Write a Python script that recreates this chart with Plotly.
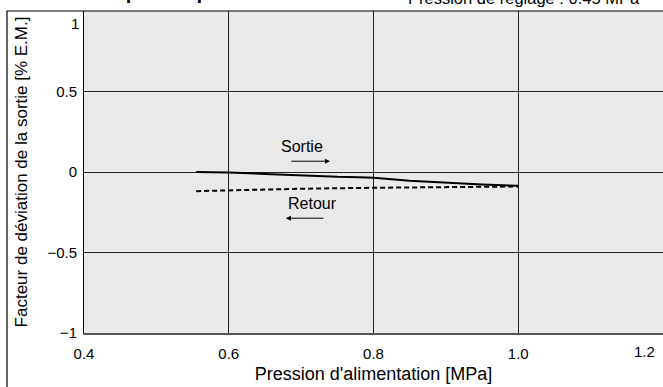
import plotly.graph_objects as go

# Data
pression_sortie = [0.555, 0.6, 0.65, 0.7, 0.75, 0.78, 0.8, 0.85, 0.9, 0.95, 1.0]
deviation_sortie = [0.0, -0.003, -0.012, -0.022, -0.03, -0.032, -0.036, -0.055, -0.068, -0.077, -0.086]

pression_retour = [0.555, 0.6, 0.7, 0.8, 0.9, 1.0]
deviation_retour = [-0.119, -0.113, -0.104, -0.098, -0.095, -0.09]

x_ticks = [0.4, 0.6, 0.8, 1.0]
y_ticks = [-1, -0.5, 0, 0.5, 1]
y_tick_text = ["\u22121", "\u22120.5", "0", "0.5", ""]

W, H = 663, 387
ML, MR, MT, MB = 84, 0, 10.5, 54
PH = H - MT - MB

def py(p):
    """pixel row -> paper y"""
    return 1 + (MT - p) / PH

FONT = "Liberation Sans, Arial, Helvetica, sans-serif"
fig = go.Figure()
fig.add_trace(go.Scatter(x=pression_sortie, y=deviation_sortie, mode="lines",
                         line=dict(color="black", width=2), showlegend=False))
fig.add_trace(go.Scatter(x=pression_retour, y=deviation_retour, mode="lines",
                         line=dict(color="black", width=2, dash="5px,3px"), showlegend=False))

fig.update_layout(
    width=W, height=H,
    margin=dict(l=ML, r=MR, t=MT, b=MB),
    paper_bgcolor="white", plot_bgcolor="#e8e9e8",
    font=dict(family=FONT, color="black", size=15),
    xaxis=dict(range=[0.4, 1.2], tickvals=x_ticks, tickformat=".1f",
               showgrid=True, gridcolor="#222", gridwidth=1, zeroline=False,
               showline=True, linecolor="#555", linewidth=2,
               ticks="", ticklabelstandoff=6,
               title=dict(text="Pression d'alimentation [MPa]", font=dict(size=18), standoff=6),
               tickfont=dict(size=15)),
    yaxis=dict(range=[-1, 1], tickvals=y_ticks, ticktext=y_tick_text,
               showgrid=True, gridcolor="#222", gridwidth=1, zeroline=False,
               showline=True, linecolor="black", linewidth=1,
               ticks="", ticklabelstandoff=3,
               title=dict(text="Facteur de déviation de la sortie [% E.M.]",
                          font=dict(size=17), standoff=15),
               tickfont=dict(size=15)),
    annotations=[
        dict(text="1", xref="paper", yref="y", x=0, y=1, xanchor="right", yanchor="top",
             xshift=-3, yshift=-2, showarrow=False, font=dict(size=15)),
        dict(text="1.2", xref="x", yref="y", x=1.2, y=-1, xanchor="right", yanchor="top",
             xshift=-6, yshift=-8, showarrow=False, font=dict(size=15)),
        dict(text="Sortie", x=0.7007, y=0.158, xref="x", yref="y", showarrow=False, font=dict(size=16)),
        dict(text="", x=0.7398, y=0.067, ax=0.6845, ay=0.067, xref="x", yref="y", axref="x", ayref="y",
             showarrow=True, arrowhead=2, arrowsize=1, arrowwidth=1, arrowcolor="black"),
        dict(text="Retour", x=0.716, y=-0.195, xref="x", yref="y", showarrow=False, font=dict(size=16)),
        dict(text="", x=0.679, y=-0.287, ax=0.733, ay=-0.287, xref="x", yref="y", axref="x", ayref="y",
             showarrow=True, arrowhead=2, arrowsize=1, arrowwidth=1, arrowcolor="black"),
        dict(text="<b>Caractéristiques de pression</b>", xref="paper", yref="paper",
             x=(13 - ML) / (W - ML), y=py(-8), xanchor="left", yanchor="middle", showarrow=False,
             font=dict(size=19)),
        dict(text="Pression de réglage : 0.45 MPa", xref="paper", yref="paper",
             x=(406 - ML) / (W - ML), y=py(-3), xanchor="left", yanchor="middle", showarrow=False,
             font=dict(size=16.5)),
    ],
    shapes=[
        dict(type="rect", xref="paper", yref="paper",
             x0=(7 - ML) / (W - ML), x1=1.1, y0=py(400), y1=1,
             line=dict(color="black", width=1.2), fillcolor="rgba(0,0,0,0)", layer="above"),
    ],
)

fig.write_html("out.html")
